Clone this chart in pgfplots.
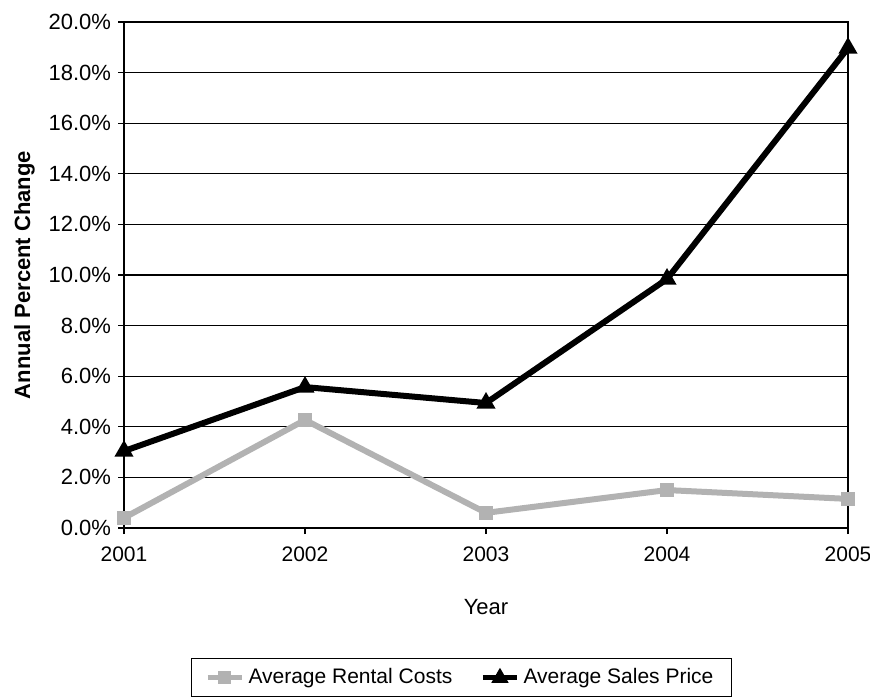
\documentclass[border=0pt]{standalone}
\usepackage{pgfplots}
\pgfplotsset{compat=1.18}
\usepackage{fontspec}
\setmainfont{Liberation Sans}
\definecolor{rent}{RGB}{178,178,178}
\begin{document}
\begin{tikzpicture}
\useasboundingbox (-62pt,-84pt) rectangle (373pt,264pt);
\begin{axis}[
  scale only axis, width=362pt, height=253pt,
  at={(0,0)}, anchor=south west,
  xmin=2001, xmax=2005, ymin=0, ymax=20,
  xtick={2001,2002,2003,2004,2005},
  xtick pos=bottom, ytick pos=left,
  xticklabel style={/pgf/number format/1000 sep={}, yshift=-3pt, font=\fontsize{10.5}{12}\selectfont},
  ytick={0,2,...,20},
  yticklabel={\pgfmathprintnumber[fixed,fixed zerofill,precision=1]{\tick}\%},
  /pgf/number format/assume math mode=true,
  yticklabel style={font=\fontsize{11}{13}\selectfont},
  ymajorgrids, grid style={black, line width=0.6pt},
  axis line style={black, line width=0.8pt},
  tick style={black, line width=0.6pt},
  tick align=outside, major tick length=3pt,
  xlabel={Year}, ylabel={\textbf{Annual Percent Change}},
  label style={font=\fontsize{11}{13}\selectfont},
  xlabel style={yshift=-12pt},
  ylabel style={yshift=0pt},
  clip=false,
  legend style={at={(0.466,-0.257)}, anchor=north, legend columns=2,
    draw=black, line width=0.6pt, font=\fontsize{10.5}{12}\selectfont,
    /tikz/every even column/.append style={column sep=12pt},
    inner xsep=7pt, inner ysep=3pt},
  legend image post style={line width=2.5pt},
]
\addplot[rent, line width=3pt, mark=square*, mark size=2pt, mark options={fill=rent}] coordinates {
(2001,0.4) (2002,4.27) (2003,0.6) (2004,1.5) (2005,1.15)};
\addlegendentry{Average Rental Costs}
\addplot[black, line width=3pt, mark=triangle*, mark size=2.5pt] coordinates {
(2001,3.04) (2002,5.57) (2003,4.94) (2004,9.84) (2005,18.97)};
\addlegendentry{Average Sales Price}
\end{axis}
\end{tikzpicture}
\end{document}
